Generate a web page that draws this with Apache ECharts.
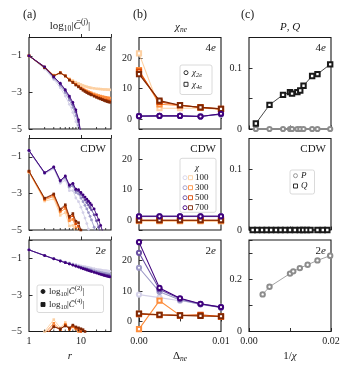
<!DOCTYPE html>
<html>
<head>
<meta charset="utf-8">
<script src="https://cdn.jsdelivr.net/npm/echarts@6.0.0/dist/echarts.min.js"></script>
<style>
html, body { margin: 0; padding: 0; background: #fff; }
#main { width: 351px; height: 373px; }
</style>
</head>
<body>
<div id="main"></div>
<script>
// distances r for column (a), minor log ticks
var R = [1, 2, 3, 4, 5, 6, 7, 8, 9, 10, 11, 12, 13, 14, 15, 16, 18, 20, 22, 24, 26, 28, 30, 32, 34, 36];
var R_MINOR = [2, 3, 4, 5, 6, 7, 8, 9, 20, 30];
var CHI = [100, 300, 500, 700];
var DELTA = [0, 0.0025, 0.005, 0.0075, 0.01];

// (a) log10|C(2)| / log10|C(4)|, rows = chi 100, 300, 500, 700
var c2_4e = [
  [-1.0, -1.72, -2.3, -2.75, -3.2, -3.65, -4.1, -4.6, -5.1, -5.6],
  [-1.0, -1.66, -2.22, -2.62, -3.02, -3.42, -3.82, -4.27, -4.8, -5.4],
  [-1.0, -1.62, -2.17, -2.54, -2.91, -3.28, -3.66, -4.06, -4.6, -5.3],
  [-1.0, -1.6, -2.15, -2.5, -2.85, -3.2, -3.55, -3.95, -4.5, -5.2]
];
var c4_4e = [
  [-1.0, -1.6, -2.05, -1.95, -2.1, -2.25, -2.35, -2.44, -2.51, -2.57, -2.62, -2.66, -2.69, -2.72, -2.74, -2.76, -2.78, -2.8, -2.81, -2.82, -2.83, -2.84, -2.84, -2.85, -2.85, -2.86],
  [-1.0, -1.62, -2.08, -1.93, -2.1, -2.3, -2.42, -2.55, -2.65, -2.74, -2.81, -2.87, -2.92, -2.96, -3.0, -3.03, -3.08, -3.13, -3.17, -3.2, -3.23, -3.25, -3.27, -3.29, -3.3, -3.31],
  [-1.0, -1.63, -2.1, -1.93, -2.1, -2.32, -2.45, -2.58, -2.68, -2.78, -2.86, -2.92, -2.98, -3.03, -3.07, -3.11, -3.18, -3.24, -3.29, -3.33, -3.37, -3.4, -3.42, -3.44, -3.46, -3.47],
  [-1.0, -1.65, -2.1, -1.93, -2.1, -2.33, -2.46, -2.6, -2.7, -2.8, -2.88, -2.95, -3.01, -3.06, -3.1, -3.14, -3.21, -3.27, -3.32, -3.36, -3.4, -3.44, -3.47, -3.5, -3.52, -3.54]
];
var c2_cdw = [
  [-0.7, -1.93, -1.66, -2.45, -2.28, -2.85, -2.85, -3.25, -3.45, -3.75, -4.05, -4.35, -4.65, -4.95, -5.25],
  [-0.67, -1.9, -1.6, -2.36, -2.14, -2.66, -2.6, -2.95, -3.03, -3.25, -3.45, -3.65, -3.85, -4.05, -4.25, -4.45, -4.85, -5.25],
  [-0.66, -1.88, -1.57, -2.32, -2.08, -2.58, -2.5, -2.83, -2.88, -3.05, -3.2, -3.35, -3.5, -3.64, -3.77, -3.9, -4.17, -4.5, -4.85, -5.2],
  [-0.65, -1.87, -1.55, -2.3, -2.05, -2.54, -2.45, -2.77, -2.8, -2.95, -3.08, -3.2, -3.32, -3.43, -3.53, -3.63, -3.85, -4.16, -4.45, -4.75, -5.05]
];
var c4_cdw = [
  [-1.85, -3.42, -3.3, -4.2, -4.05, -4.78, -4.75, -5.25],
  [-1.82, -3.35, -3.16, -4.02, -3.82, -4.5, -4.42, -4.88, -5.05, -5.4],
  [-1.8, -3.3, -3.08, -3.92, -3.7, -4.35, -4.22, -4.66, -4.8, -5.2],
  [-1.78, -3.26, -3.03, -3.86, -3.62, -4.25, -4.1, -4.52, -4.6, -5.0, -5.3]
];
var c2_2e = [
  [-0.54, -0.84, -1.0, -1.11, -1.19, -1.25, -1.3, -1.34, -1.38, -1.41, -1.44, -1.46, -1.48, -1.5, -1.52, -1.54, -1.57, -1.6, -1.62, -1.64, -1.66, -1.67, -1.68, -1.69, -1.7, -1.71],
  [-0.54, -0.85, -1.02, -1.13, -1.22, -1.29, -1.35, -1.4, -1.44, -1.48, -1.51, -1.54, -1.57, -1.6, -1.62, -1.64, -1.68, -1.71, -1.74, -1.77, -1.79, -1.81, -1.83, -1.84, -1.85, -1.86],
  [-0.54, -0.85, -1.03, -1.15, -1.24, -1.31, -1.37, -1.42, -1.47, -1.51, -1.55, -1.58, -1.61, -1.64, -1.67, -1.69, -1.74, -1.78, -1.82, -1.85, -1.88, -1.9, -1.92, -1.94, -1.95, -1.96],
  [-0.54, -0.85, -1.03, -1.15, -1.24, -1.31, -1.37, -1.43, -1.48, -1.53, -1.57, -1.6, -1.64, -1.67, -1.7, -1.72, -1.77, -1.81, -1.85, -1.88, -1.91, -1.94, -1.96, -1.98, -2.0, -2.02]
];
var c4_2e = [
  [-5.5, -5.0, -4.35, -4.8, -4.5, -4.85, -4.7, -4.9, -5.1, -5.3],
  [-5.5, -5.1, -4.55, -4.9, -4.6, -4.9, -4.75, -4.85, -5.0, -5.2],
  [-5.6, -5.2, -4.7, -4.9, -4.65, -4.85, -4.7, -4.8, -4.9, -5.0, -5.1, -5.3],
  [-5.6, -5.3, -4.75, -4.85, -4.7, -4.8, -4.65, -4.75, -4.8, -4.85, -4.9, -5.0, -5.1, -5.3]
];

// (b) chi_2e (circles) and chi_4e (squares) vs Delta_ne
var x2e_4e = [[0.9, 0.9, 1.0, 0.9, 1.4], [1.0, 1.0, 1.0, 0.9, 1.5], [1.0, 1.0, 1.0, 0.8, 1.6], [0.9, 1.0, 1.0, 0.8, 1.7]];
var x4e_4e = [[21.5, 3.5, 3.5, 3.6, 3.1], [16.0, 4.8, 4.4, 3.8, 3.2], [15.5, 5.6, 4.5, 3.8, 3.3], [14.7, 6.0, 4.5, 3.8, 3.3]];
var x2e_cdw = [[1.1, 1.1, 1.1, 1.1, 1.1], [1.2, 1.2, 1.2, 1.2, 1.2], [1.2, 1.2, 1.2, 1.2, 1.2], [1.2, 1.2, 1.2, 1.2, 1.2]];
var x4e_cdw = [[-0.4, -0.5, -0.5, -0.5, -0.5], [-0.2, -0.2, -0.2, -0.2, -0.2], [-0.1, -0.1, -0.1, -0.1, -0.1], [-0.1, -0.1, -0.1, -0.1, -0.1]];
var x2e_2e = [[8.8, 7.8, 6.8, 5.8, 4.8], [17.6, 9.7, 7.0, 5.6, 4.6], [22.5, 10.5, 7.4, 5.7, 4.6], [26.0, 11.0, 7.6, 5.8, 4.7]];
var x4e_2e = [[2.6, 2.3, 2.1, 2.0, 1.6], [-2.5, 6.8, 2.0, 1.9, 1.6], [2.4, 2.1, 1.9, 2.2, 1.6], [2.6, 2.2, 2.0, 1.8, 1.7]];

// (c) P, Q vs 1/chi
var inv_4e = [0.00167, 0.005, 0.0083, 0.01, 0.0105, 0.0118, 0.0125, 0.0133, 0.0154, 0.0167, 0.0198];
var q_4e = [0.009, 0.0395, 0.056, 0.0605, 0.058, 0.0605, 0.063, 0.071, 0.087, 0.09, 0.106];
var p_4e = [0, 0, 0, 0, 0, 0, 0, 0, 0, 0, 0];
var inv_cdw = [0.0009, 0.002, 0.0032, 0.0043, 0.0054, 0.0066, 0.0077, 0.0088, 0.01, 0.0112, 0.0124, 0.0132, 0.0141, 0.015, 0.0167, 0.018, 0.0191];
var q_cdw = [0, 0, 0, 0, 0, 0, 0, 0, 0, 0, 0, 0, 0, 0, 0, 0, 0];
var inv_2e = [0.00333, 0.005, 0.01, 0.0108, 0.0124, 0.0143, 0.0167, 0.0198];
var p_2e = [0.142, 0.171, 0.2215, 0.23, 0.2426, 0.2555, 0.272, 0.29];

var PURPLES = ['#d4d1e8', '#9e9ac8', '#6a51a3', '#3f007d'];
var ORANGES = ['#fdd0a2', '#fd8d3c', '#d94801', '#7f2704'];
var INK = '#1a1a1a';
var FF = 'Liberation Serif';

var GL = [29, 139, 249], GT = [37.5, 138.5, 240], GW = 82, GH = 91.5;

var chart = echarts.init(document.getElementById('main'));

function zip(xs, ys) {
  return ys.map(function (y, i) { return [xs[i], y]; });
}
function near(a, b) { return Math.abs(a - b) < 1e-9; }

var grids = [], xAxes = [], yAxes = [], series = [], graphic = [];

function axisCommon(gi) {
  return {
    gridIndex: gi,
    axisLine: { show: false },
    splitLine: { show: false },
    axisTick: { inside: true, length: 3.5, lineStyle: { color: INK, width: 0.9 } }
  };
}

for (var row = 0; row < 3; row++) {
  for (var col = 0; col < 3; col++) {
    var gi = row * 3 + col;
    grids.push({ left: GL[col], top: GT[row], width: GW, height: GH, show: true,
      borderColor: INK, borderWidth: 1.1, backgroundColor: 'transparent' });
    var xa = axisCommon(gi), ya = axisCommon(gi);
    var lab = { show: row === 2, margin: 5, fontFamily: FF, fontSize: 10, color: INK };
    var ylab = { show: true, margin: 7, fontFamily: FF, fontSize: 10, color: INK };
    if (col === 0) {
      xa.type = 'log'; xa.logBase = 10; xa.min = 1; xa.max = 38;
      lab.formatter = function (v) { return near(v, 1) ? '1' : (near(v, 10) ? '10' : ''); };
      ya.type = 'value'; ya.min = -5; ya.max = 0; ya.interval = 2;
      ylab.formatter = function (v) { return (near(v, -1) || near(v, -3) || near(v, -5)) ? '\u2212' + Math.abs(v) : ''; };
    } else if (col === 1) {
      xa.type = 'value'; xa.min = 0; xa.max = 0.01; xa.interval = 0.005;
      lab.formatter = function (v) { return near(v, 0) ? '0.00' : (near(v, 0.01) ? '0.01' : ''); };
      ya.type = 'value'; ya.min = -3.3; ya.max = 26.7; ya.splitNumber = 3;
      ylab.formatter = function (v) { return (near(v, 0) || near(v, 10) || near(v, 20)) ? String(Math.round(v)) : ''; };
    } else {
      xa.type = 'value'; xa.min = 0; xa.max = 0.02; xa.interval = 0.01;
      lab.formatter = function (v) { return near(v, 0) ? '0.00' : (near(v, 0.02) ? '0.02' : ''); };
      ya.type = 'value'; ya.min = 0;
      if (row < 2) {
        ya.max = 0.15; ya.interval = 0.05;
        ylab.formatter = function (v) { return near(v, 0) ? '0' : (near(v, 0.1) ? '0.1' : ''); };
      } else {
        ya.max = 0.35; ya.interval = 0.1;
        ylab.formatter = function (v) { return near(v, 0) ? '0' : (near(v, 0.2) ? '0.2' : ''); };
      }
    }
    xa.axisLabel = lab; ya.axisLabel = ylab;
    xAxes.push(xa); yAxes.push(ya);
  }
}

function line(gi, xs, ys, color, symbol, size, width, bw, z, clip) {
  series.push({
    type: 'line', xAxisIndex: gi, yAxisIndex: gi, data: zip(xs, ys),
    symbol: symbol, symbolSize: size, showSymbol: true, clip: clip,
    lineStyle: { color: color, width: width },
    itemStyle: { color: color, borderColor: color, borderWidth: bw },
    z: z, silent: true, animation: false
  });
}

// column (a)
var colA = [[c2_4e, c4_4e], [c2_cdw, c4_cdw], [c2_2e, c4_2e]];
colA.forEach(function (pair, row) {
  var gi = row * 3;
  for (var k = 0; k < CHI.length; k++) {
    line(gi, R, pair[1][k], ORANGES[k], 'rect', 2.6, 0.9, 0, 2 + k, true);
    line(gi, R, pair[0][k], PURPLES[k], 'circle', 2.8, 0.9, 0, 2 + k, true);
  }
  series.push({
    type: 'custom', xAxisIndex: gi, yAxisIndex: gi, silent: true, z: 10,
    data: R_MINOR.map(function (r) { return [r, -5]; }),
    renderItem: function (params, api) {
      var p = api.coord([api.value(0), api.value(1)]);
      return { type: 'line', shape: { x1: p[0], y1: p[1], x2: p[0], y2: p[1] - 2 },
        style: { stroke: INK, lineWidth: 0.8 } };
    }
  });
});

// column (b)
var colB = [[x2e_4e, x4e_4e], [x2e_cdw, x4e_cdw], [x2e_2e, x4e_2e]];
colB.forEach(function (pair, row) {
  var gi = row * 3 + 1;
  for (var k = 0; k < CHI.length; k++) {
    line(gi, DELTA, pair[1][k], ORANGES[k], 'emptyRect', 4.2, 1.1, 0.9, 2 + k, false);
    line(gi, DELTA, pair[0][k], PURPLES[k], 'emptyCircle', 4.2, 1.1, 0.9, 2 + k, false);
  }
});

// column (c)
line(2, inv_4e, p_4e, '#8c8c8c', 'emptyCircle', 4.2, 0.8, 0.7, 2, false);
line(2, inv_4e, q_4e, INK, 'emptyRect', 4.4, 0.8, 0.7, 3, false);
line(5, inv_cdw, q_cdw, INK, 'emptyRect', 4.4, 0.8, 0.7, 3, false);
line(8, inv_2e, p_2e, '#8c8c8c', 'emptyCircle', 4.4, 0.8, 0.7, 2, false);

// texts
var RICH = {
  t: { fontFamily: FF, fontSize: 11, fill: INK },
  i: { fontFamily: FF, fontSize: 11, fontStyle: 'italic', fill: INK },
  s: { fontFamily: FF, fontSize: 7.5, fill: INK, padding: [7, 0, 0, 0] },
  si: { fontFamily: FF, fontSize: 7.5, fontStyle: 'italic', fill: INK, padding: [7, 0, 0, 0] },
  p: { fontFamily: FF, fontSize: 7.5, fill: INK, padding: [0, 0, 8, 0] },
  pi: { fontFamily: FF, fontSize: 7.5, fontStyle: 'italic', fill: INK, padding: [0, 0, 8, 0] },
  lt: { fontFamily: FF, fontSize: 9, fill: INK },
  li: { fontFamily: FF, fontSize: 9, fontStyle: 'italic', fill: INK },
  ls: { fontFamily: FF, fontSize: 6.5, fill: INK, padding: [6, 0, 0, 0] },
  lsi: { fontFamily: FF, fontSize: 6.5, fontStyle: 'italic', fill: INK, padding: [6, 0, 0, 0] },
  lp: { fontFamily: FF, fontSize: 6.5, fill: INK, padding: [0, 0, 7, 0] }
};
function text(x, y, str, align, size) {
  graphic.push({ type: 'text', x: x, y: y, silent: true, z: 100,
    style: { text: str, rich: RICH, fontFamily: FF, fontSize: size || 11, fill: INK,
      textAlign: align || 'center', textVerticalAlign: 'middle' } });
}
text(23, 15, '(a)', 'left', 12);
text(133, 15, '(b)', 'left', 12);
text(241, 15, '(c)', 'left', 12);
text(70, 26, '{t|log}{s|10}{t||}{i|C\u0304}{p|(}{pi|j}{p|)}{t||}');
text(181, 27, '{i|\u03c7}{si|ne}');
text(290, 27, '{i|P}{t|, }{i|Q}');
text(70, 356, '{i|r}');
text(180, 356, '{t|\u0394}{si|ne}');
text(290, 356, '{t|1/}{i|\u03c7}');

var TAGS = ['{t|4}{i|e}', '{t|CDW}', '{t|2}{i|e}'];
for (var r2 = 0; r2 < 3; r2++) {
  for (var c2 = 0; c2 < 3; c2++) {
    text(GL[c2] + GW - 5, GT[r2] + 11, TAGS[r2], 'right');
  }
}

// legends
function box(x, y, w, h) {
  graphic.push({ type: 'rect', silent: true, z: 90, shape: { x: x, y: y, width: w, height: h, r: 2 },
    style: { fill: 'rgba(255,255,255,0.85)', stroke: '#d0d0d0', lineWidth: 0.8 } });
}
function circ(x, y, color, filled) {
  graphic.push({ type: 'circle', silent: true, z: 95, shape: { cx: x, cy: y, r: 2 },
    style: { fill: filled ? color : '#fff', stroke: color, lineWidth: 0.9 } });
}
function sq(x, y, color, filled) {
  graphic.push({ type: 'rect', silent: true, z: 95, shape: { x: x - 2, y: y - 2, width: 4, height: 4 },
    style: { fill: filled ? color : '#fff', stroke: color, lineWidth: 0.9 } });
}
box(37, 285, 66.5, 27.5);
circ(43, 291.5, INK, true);
sq(43, 304.5, INK, true);
text(49, 291.5, '{lt|log}{ls|10}{lt||}{li|C\u0304}{lp|(2)}{lt||}', 'left');
text(49, 304.5, '{lt|log}{ls|10}{lt||}{li|C\u0304}{lp|(4)}{lt||}', 'left');

box(180, 65, 32, 29.5);
circ(186, 72.7, INK, false);
sq(186, 84.3, INK, false);
text(192, 72.7, '{li|\u03c7}{lsi|2e}', 'left');
text(192, 84.3, '{li|\u03c7}{lsi|4e}', 'left');

box(180, 158.3, 36, 54);
text(197, 167.5, '{li|\u03c7}');
var LEG_Y = [177.7, 187.7, 197.7, 207.7];
for (var k2 = 0; k2 < CHI.length; k2++) {
  circ(185, LEG_Y[k2], PURPLES[k2], false);
  sq(190.5, LEG_Y[k2], ORANGES[k2], false);
  text(195, LEG_Y[k2], '{lt|' + CHI[k2] + '}', 'left');
}

box(290, 170, 24.5, 24);
circ(295.5, 175.7, '#8c8c8c', false);
sq(295.5, 186, INK, false);
text(301, 175.7, '{li|P}', 'left');
text(301, 186, '{li|Q}', 'left');

chart.setOption({
  animation: false,
  grid: grids,
  xAxis: xAxes,
  yAxis: yAxes,
  series: series,
  graphic: graphic
});
</script>
</body>
</html>
